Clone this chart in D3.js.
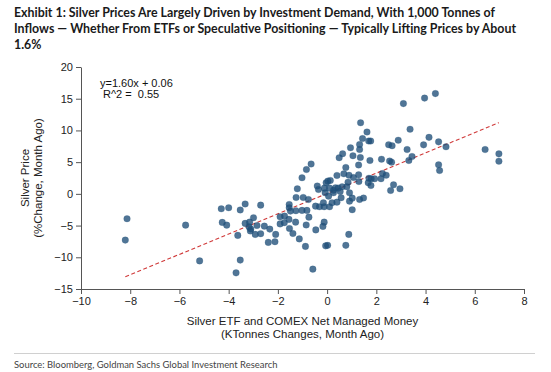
<!DOCTYPE html>
<html><head><meta charset="utf-8">
<script src="https://cdn.jsdelivr.net/npm/d3@7"></script>
<style>
html,body{margin:0;padding:0;background:#fff;}
svg{display:block;}
</style></head>
<body>
<script>
// ---- Data ----
const titleLines = [
  "Exhibit 1: Silver Prices Are Largely Driven by Investment Demand, With 1,000 Tonnes of",
  "Inflows \u2014 Whether From ETFs or Speculative Positioning \u2014 Typically Lifting Prices by About",
  "1.6%"
];
const sourceText = "Source: Bloomberg, Goldman Sachs Global Investment Research";
const xTitle = ["Silver ETF and COMEX Net Managed Money", "(KTonnes Changes, Month Ago)"];
const yTitle = ["Silver Price", "(%Change, Month Ago)"];
const xTicks = [-10, -8, -6, -4, -2, 0, 2, 4, 6, 8];
const yTicks = [-15, -10, -5, 0, 5, 10, 15, 20];
const fitSlope = 1.60, fitIntercept = 0.06, fitR2 = 0.55;

const xValues = [
 -8.13,-8.20,-5.75,-5.18,-4.30,-4.00,-4.26,-4.08,-3.53,-3.63,-3.53,-3.70,-3.33,-2.70,-3.33,-3.15,-2.99,
 -3.17,-3.10,-3.12,-2.85,-2.92,-2.70,-2.55,-2.33,-2.09,-2.39,-2.12,-1.91,-1.91,-1.73,-1.74,-1.54,-1.54,
 -1.49,-1.55,-1.53,-1.27,-1.28,-1.39,-1.13,-0.88,-0.85,-0.46,-0.58,-1.21,-1.02,-0.84,-0.65,-1.26,-0.97,
 -0.76,-0.47,-1.02,-0.82,-0.74,-0.40,-0.35,-0.31,-0.06,0.02,0.76,0.88,-0.12,-0.17,1.02,-0.12,0.10,-0.15,
 0.20,0.40,0.57,0.91,1.02,1.32,1.48,0.91,0.06,-0.08,0.26,0.26,-0.11,0.10,0.45,0.61,0.80,0.85,0.03,-0.04,
 0.13,0.40,0.68,0.89,1.07,1.28,1.29,1.70,1.79,1.93,2.19,2.25,2.40,1.67,1.78,2.70,2.96,2.58,0.76,1.28,
 0.49,0.63,1.05,1.35,1.74,2.21,2.54,2.62,3.32,3.45,0.95,1.32,1.32,1.44,1.69,1.77,2.50,2.64,2.89,3.25,
 3.92,1.36,1.62,3.37,4.14,3.10,3.96,4.40,4.53,4.83,4.53,4.57,6.42,6.98,6.98,0.53,0.34
];
const yValues = [
 -3.92,-7.29,-4.93,-10.57,-2.35,-2.19,-4.50,-4.93,-2.54,-6.55,-10.44,-12.45,-1.59,-1.78,-4.66,-4.46,-3.76,
 -5.21,-5.53,-5.84,-4.98,-6.39,-6.28,-5.09,-5.56,-6.39,-7.65,-7.54,-3.61,-4.74,-3.51,-4.55,-1.67,-2.19,
 -2.72,-4.03,-5.45,-2.66,-4.46,-6.24,-7.10,-8.28,-4.90,-5.68,-11.87,0.80,2.54,3.84,4.71,-0.57,-0.57,
 -0.88,-1.94,-2.61,-2.61,-3.67,1.24,0.69,-2.03,-8.20,-8.12,-8.12,-6.39,-4.46,-5.13,-2.50,-2.03,-2.03,-1.40,
 -1.40,-1.31,-0.61,-1.15,-0.68,-0.88,-0.65,0.17,-0.36,0.17,0.17,0.58,0.90,0.90,0.90,1.12,1.12,1.84,2.00,1.75,
 2.11,2.90,3.16,2.94,2.58,3.01,1.95,2.47,2.38,2.38,2.38,3.21,2.94,1.75,1.32,1.43,0.80,0.54,4.16,4.55,
 5.70,6.33,6.01,5.73,5.26,5.46,5.18,4.99,5.26,5.89,7.27,7.78,6.99,8.72,8.33,8.33,7.75,7.59,8.46,6.99,
 7.73,11.21,9.75,10.19,8.91,14.23,15.10,15.81,8.20,7.42,4.58,3.68,6.99,6.31,5.15,0.38,0.96
];

// ---- Chart ----
const W = 551, H = 372;
const svg = d3.select("body").append("svg").attr("width", W).attr("height", H)
  .style("font-family", "'Liberation Sans', Arial, sans-serif");

const x = d3.scaleLinear().domain([-10, 8]).range([81, 524]);
const y = d3.scaleLinear().domain([-15, 20]).range([289, 67]);

// Title
const titleG = svg.append("g");
const tFont = "Lato, 'Open Sans', sans-serif";
const tl = titleG.selectAll("text").data(titleLines).join("text")
  .attr("x", 14).attr("y", (d, i) => 17 + i * 16)
  .style("font-family", tFont).style("font-weight", 700).style("font-size", "13px")
  .attr("fill", "#1a1a1a").text(d => d);
const w0 = tl.nodes()[0].getComputedTextLength();
const fs = 13 * 481 / w0;
tl.style("font-size", fs.toFixed(2) + "px");

// Axes
const axisColor = "#555";
const gx = svg.append("g").attr("transform", "translate(0,289)")
  .call(d3.axisBottom(x).tickValues(xTicks).tickSize(5).tickSizeOuter(0));
const gy = svg.append("g").attr("transform", "translate(81,0)")
  .call(d3.axisLeft(y).tickValues(yTicks).tickSize(5).tickSizeOuter(0));
[gx, gy].forEach(g => {
  g.selectAll("path,line").attr("stroke", axisColor);
  g.selectAll("text").attr("fill", "#222").style("font-size", "11px")
    .style("font-family", "'Liberation Sans', Arial, sans-serif");
});

// Regression line
const xs = d3.extent(xValues);
svg.append("line")
  .attr("x1", x(xs[0])).attr("y1", y(fitSlope * xs[0] + fitIntercept))
  .attr("x2", x(xs[1])).attr("y2", y(fitSlope * xs[1] + fitIntercept))
  .attr("stroke", "#d03a3a").attr("stroke-width", 1.1).attr("stroke-dasharray", "4,2.5");

// Points
const pts = xValues.map((v, i) => ({x: v, y: yValues[i]}));
svg.append("g").selectAll("circle").data(pts).join("circle")
  .attr("cx", d => x(d.x)).attr("cy", d => y(d.y)).attr("r", 3.3)
  .attr("fill", "#1f4e79").attr("fill-opacity", 0.78)
  .attr("stroke", "#1f4e79").attr("stroke-opacity", 0.25).attr("stroke-width", 0.8);

// Equation text
svg.append("text").attr("x", 100).attr("y", 86.5).style("font-size", "11px").attr("fill", "#111")
  .text(`y=${fitSlope.toFixed(2)}x + ${fitIntercept.toFixed(2)}`);
svg.append("text").attr("x", 103).attr("y", 97.5).style("font-size", "11px").attr("fill", "#111")
  .attr("xml:space", "preserve").style("white-space", "pre")
  .text(`R^2 =  ${fitR2.toFixed(2)}`);

// Axis titles
svg.append("g").selectAll("text").data(xTitle).join("text")
  .attr("x", 302.5).attr("y", (d, i) => 325 + i * 13).attr("text-anchor", "middle")
  .style("font-size", "11.5px").attr("fill", "#222").text(d => d);
svg.append("g").selectAll("text").data(yTitle).join("text")
  .attr("transform", (d, i) => `translate(${28.5 + i * 13.5},178) rotate(-90)`)
  .attr("text-anchor", "middle").style("font-size", "11.5px").attr("fill", "#222").text(d => d);

// Separator and source
svg.append("line").attr("x1", 14).attr("x2", 535).attr("y1", 353.5).attr("y2", 353.5)
  .attr("stroke", "#d0d0d0").attr("stroke-width", 1);
const src = svg.append("text").attr("x", 14).attr("y", 368)
  .style("font-family", tFont).style("font-size", "9.5px").attr("fill", "#444").text(sourceText);
const sw = src.node().getComputedTextLength();
src.style("font-size", (9.5 * 264 / sw).toFixed(2) + "px");
</script>
</body></html>
